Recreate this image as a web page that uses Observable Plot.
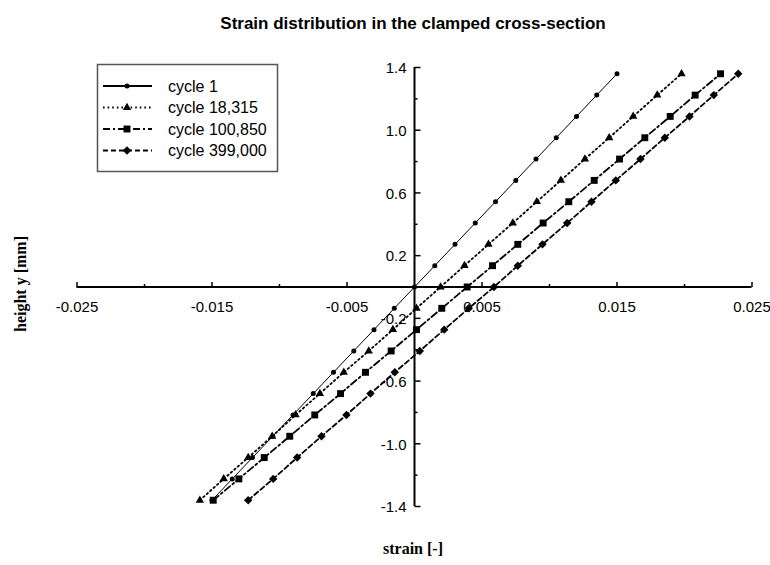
<!DOCTYPE html>
<html><head><meta charset="utf-8">
<script src="https://cdn.jsdelivr.net/npm/d3@7"></script>
<script src="https://cdn.jsdelivr.net/npm/@observablehq/plot@0.6"></script>
<style>
body{margin:0;background:#fff;}
#wrap{position:relative;width:770px;height:565px;overflow:hidden;background:#fff;}
#wrap svg{position:absolute;left:0;top:0;}
</style></head><body><div id="wrap"></div>
<script>
// ---- data ----
const heights = [-1.36,-1.224,-1.088,-0.952,-0.816,-0.68,-0.544,-0.408,-0.272,-0.136,0,0.136,0.272,0.408,0.544,0.68,0.816,0.952,1.088,1.224,1.36];
const seriesNames = ["cycle 1","cycle 18,315","cycle 100,850","cycle 399,000"];
const strainCycle1 = [-0.015,-0.0135,-0.012,-0.0105,-0.009,-0.0075,-0.006,-0.0045,-0.003,-0.0015,0,0.0015,0.003,0.0045,0.006,0.0075,0.009,0.0105,0.012,0.0135,0.015];
const strainCycle18315 = [-0.0159,-0.01413,-0.01232,-0.01054,-0.00881,-0.00701,-0.00524,-0.00339,-0.0016,0.00015,0.00193,0.0037,0.00548,0.00728,0.00906,0.01084,0.01262,0.01442,0.0162,0.01798,0.01978];
const strainCycle100850 = [-0.01491,-0.01301,-0.01113,-0.00924,-0.00739,-0.00548,-0.00363,-0.00173,0.00015,0.00202,0.0039,0.00578,0.00765,0.00953,0.01143,0.01331,0.01519,0.01706,0.01894,0.02079,0.02267];
const strainCycle399000 = [-0.01232,-0.01047,-0.00869,-0.00689,-0.00504,-0.00326,-0.00146,0.00039,0.0022,0.00402,0.00588,0.00765,0.00948,0.01131,0.01311,0.01491,0.01674,0.01854,0.02037,0.02217,0.02398];
const xMajorTicks = [-0.025,-0.015,-0.005,0.005,0.015,0.025];
const xMajorLabels = ["-0.025","-0.015","-0.005","0.005","0.015","0.025"];
const xMinorTicks = [-0.02,-0.01,0.01,0.02];
const yMajorTicks = [-1.4,-1.0,-0.6,-0.2,0.2,0.6,1.0,1.4];
const yMajorLabels = ["-1.4","-1.0","-0.6","-0.2","0.2","0.6","1.0","1.4"];
const yMinorTicks = [-1.2,-0.8,-0.4,0.4,0.8,1.2];
const titleText = "Strain distribution in the clamped cross-section";
const xTitle = "strain [-]";
const yTitle = "height y [mm]";

// ---- styles ----
const SANS = "'Liberation Sans', Arial, Helvetica, sans-serif";
const SERIF = "'Liberation Serif', 'Times New Roman', Times, serif";
const styles = [
  {strain: strainCycle1, symbol: "circle", r: 2.5, width: 1, legendWidth: 1.8, dash: null},
  {strain: strainCycle18315, symbol: "triangle", r: 3.1, width: 1.8, legendWidth: 1.8, dash: "1.6,3"},
  {strain: strainCycle100850, symbol: "square", r: 3.9, width: 1.8, legendWidth: 1.8, dash: "7,3,2,3"},
  {strain: strainCycle399000, symbol: "diamond2", r: 3.8, width: 1.8, legendWidth: 1.8, dash: "5,3"}
];
const tickSym = (dx, dy) => ({draw(ctx){ ctx.moveTo(0,0); ctx.lineTo(dx,dy); }});

const marks = [
  Plot.text(xMajorTicks, {x: d => d, y: () => 0, text: (d,i) => xMajorLabels[i], dy: 20, fontSize: 15, fontFamily: SANS, fill: "black"}),
  Plot.text(yMajorTicks, {x: () => 0, y: d => d, text: (d,i) => yMajorLabels[i], dx: -8, dy: 1, textAnchor: "end", fontSize: 15, fontFamily: SANS, fill: "black"}),
  Plot.ruleY([0], {stroke: "black", strokeWidth: 2}),
  Plot.ruleX([0], {stroke: "black", strokeWidth: 2}),
  Plot.dot(xMajorTicks, {x: d => d, y: () => 0, symbol: tickSym(0,-5), r: 1, stroke: "black", fill: "none", strokeWidth: 1.5}),
  Plot.dot(xMinorTicks, {x: d => d, y: () => 0, symbol: tickSym(0,-3), r: 1, stroke: "black", fill: "none", strokeWidth: 1.5}),
  Plot.dot(yMajorTicks, {x: () => 0, y: d => d, symbol: tickSym(6,0), r: 1, stroke: "black", fill: "none", strokeWidth: 1.5}),
  Plot.dot(yMinorTicks, {x: () => 0, y: d => d, symbol: tickSym(3,0), r: 1, stroke: "black", fill: "none", strokeWidth: 1.5})
];
styles.forEach(s => {
  marks.push(Plot.line(heights, {x: (d,i) => s.strain[i], y: d => d, stroke: "black", strokeWidth: s.width, strokeDasharray: s.dash}));
  marks.push(Plot.dot(heights, {x: (d,i) => s.strain[i], y: d => d, symbol: s.symbol, r: s.r, fill: "black", stroke: "none"}));
});

const chart = Plot.plot({
  width: 770, height: 565,
  marginLeft: 76.5, marginRight: 18.5, marginTop: 67, marginBottom: 59,
  x: {domain: [-0.025, 0.025], axis: null},
  y: {domain: [-1.4, 1.4], axis: null},
  style: {background: "white", color: "black", overflow: "visible"},
  marks
});
document.getElementById("wrap").appendChild(chart);

// ---- overlay: title, axis titles, legend ----
const ov = d3.select("#wrap").append("svg").attr("width", 770).attr("height", 565).style("pointer-events","none");
ov.append("text").attr("x", 413).attr("y", 29).attr("text-anchor","middle")
  .attr("font-family", SANS).attr("font-weight","bold").attr("font-size", 17).text(titleText);
ov.append("text").attr("x", 413).attr("y", 554).attr("text-anchor","middle")
  .attr("font-family", SERIF).attr("font-weight","bold").attr("font-size", 16).text(xTitle);
ov.append("text").attr("transform","translate(26,284) rotate(-90)").attr("text-anchor","middle")
  .attr("font-family", SERIF).attr("font-weight","bold").attr("font-size", 16).text(yTitle);

const lg = ov.append("g");
lg.append("rect").attr("x", 97.5).attr("y", 64.5).attr("width", 180).attr("height", 107)
  .attr("fill","white").attr("stroke","#555").attr("stroke-width",1.5);
const symMap = {circle: d3.symbolCircle, triangle: d3.symbolTriangle, square: d3.symbolSquare, diamond2: d3.symbolDiamond2};
seriesNames.forEach((name, i) => {
  const s = styles[i];
  const y = 86 + i * 21.5;
  lg.append("line").attr("x1", 103).attr("x2", 152).attr("y1", y).attr("y2", y)
    .attr("stroke","black").attr("stroke-width", s.legendWidth).attr("stroke-dasharray", s.dash);
  lg.append("path").attr("transform", `translate(127,${y})`)
    .attr("d", d3.symbol(symMap[s.symbol], Math.PI * s.r * s.r)()).attr("fill","black");
  lg.append("text").attr("x", 168).attr("y", y).attr("dy","0.35em")
    .attr("font-family", SANS).attr("font-size", 16).text(name);
});
</script></body></html>
